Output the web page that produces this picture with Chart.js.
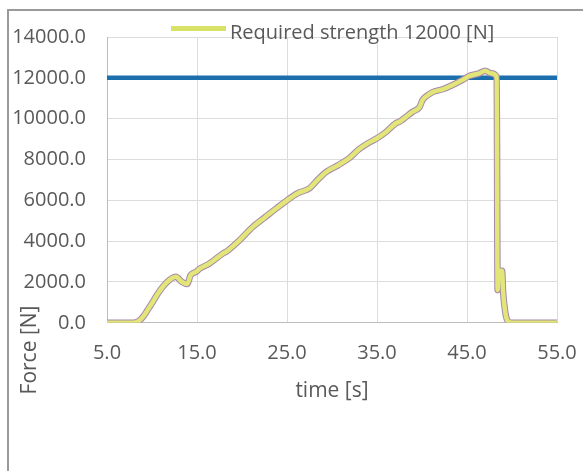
<!DOCTYPE html>
<html>
<head>
<meta charset="utf-8">
<script src="https://cdn.jsdelivr.net/npm/chart.js@4/dist/chart.umd.min.js"></script>
<style>
  html, body { margin: 0; padding: 0; background: #fff; overflow: hidden; }
  #wrap { position: relative; width: 583px; height: 471px; }
  #frame { position: absolute; left: 7px; top: 9px; width: 700px; height: 600px;
           border-left: 2px solid #9a9a9a; border-top: 2px solid #9a9a9a; }
  canvas { position: absolute; left: 0; top: 0; }
</style>
</head>
<body>
<div id="wrap">
  <div id="frame"></div>
  <canvas id="chart" width="583" height="471"></canvas>
</div>
<script>
const timeS = [5, 7.9, 8.5, 9.0, 9.5, 10.1, 10.6, 11.2, 11.7, 12.2, 12.65, 13.3, 13.9, 14.3, 14.9, 15.3, 16.4,
  17.9, 18.3, 19.5, 21.2, 22.5, 23.8, 25.0, 26.2, 27.5, 28.4, 29.4, 30.6, 31.9, 33.0, 34.0, 35.0, 36.0,
  37.1, 37.5, 38.96, 39.7, 40.07, 40.81, 41.18, 42.29, 43.4, 44.51, 45.25, 46.36, 47.02, 47.65, 48.3,
  48.4, 48.5, 48.9, 49.0, 49.3, 49.6, 50.0, 55];
const forceN = [0, 0, 80, 290, 620, 1030, 1400, 1765, 2000, 2180, 2250, 2010, 1900, 2340, 2500, 2650, 2910,
  3400, 3500, 3950, 4700, 5150, 5600, 6000, 6350, 6590, 7000, 7400, 7700, 8060, 8500, 8800, 9040, 9350,
  9775, 9850, 10340, 10550, 10920, 11200, 11300, 11440, 11650, 11900, 12090, 12220, 12350, 12220, 12050,
  1600, 2550, 2550, 1600, 400, 50, 0, 0];

// required strength line
const reqTime = [5, 55];
const reqForce = [12000, 12000];
const legendText = 'Required strength 12000 [N]';

const xTicks = [5, 15, 25, 35, 45, 55];
const yTicks = [0, 2000, 4000, 6000, 8000, 10000, 12000, 14000];

const textColor = '#595959';
const forcePts = timeS.map((t, i) => ({ x: t, y: forceN[i] }));
const reqPts = reqTime.map((t, i) => ({ x: t, y: reqForce[i] }));

// legend + rotated y title drawn at the spots they have in the original
const extraText = {
  id: 'extraText',
  afterDraw(chart) {
    const ctx = chart.ctx;
    ctx.save();
    ctx.fillStyle = '#d8e266';
    ctx.fillRect(171, 26, 55, 5);
    ctx.fillStyle = textColor;
    ctx.font = '20px "Open Sans"';
    ctx.textBaseline = 'alphabetic';
    ctx.textAlign = 'left';
    ctx.fillText(legendText, 230, 39);
    ctx.translate(30, 350);
    ctx.rotate(-Math.PI / 2);
    ctx.font = '21px "Open Sans"';
    ctx.textAlign = 'center';
    ctx.textBaseline = 'middle';
    ctx.fillText('Force [N]', 0, 0);
    ctx.restore();
  }
};

new Chart(document.getElementById('chart'), {
  type: 'line',
  data: {
    datasets: [
      {
        label: legendText,
        data: reqPts,
        borderColor: '#1b6fad',
        borderWidth: 4.5,
        pointRadius: 0,
        order: 3
      },
      {
        label: 'Force edge',
        data: forcePts,
        borderColor: '#a58aa8',
        borderWidth: 6.5,
        pointRadius: 0,
        cubicInterpolationMode: 'monotone',
        order: 2
      },
      {
        label: 'Force',
        data: forcePts,
        borderColor: '#e2e577',
        borderWidth: 4.5,
        pointRadius: 0,
        cubicInterpolationMode: 'monotone',
        order: 1
      }
    ]
  },
  options: {
    responsive: false,
    animation: false,
    layout: { padding: { left: 12, right: 0, top: 37, bottom: 67 } },
    plugins: {
      legend: { display: false },
      tooltip: { enabled: false }
    },
    scales: {
      x: {
        type: 'linear',
        min: 5,
        max: 55,
        afterBuildTicks: axis => { axis.ticks = xTicks.map(v => ({ value: v })); },
        afterFit: axis => { axis.paddingLeft = 0; axis.paddingRight = 26; },
        ticks: {
          color: textColor,
          font: { family: 'Open Sans', size: 20 },
          padding: 18,
          maxRotation: 0,
          callback: v => v.toFixed(1)
        },
        grid: { color: '#dcdcdc', drawTicks: false },
        border: { color: '#bdbdbd' },
        title: {
          display: true,
          text: 'time [s]',
          color: textColor,
          font: { family: 'Open Sans', size: 21 },
          padding: { top: -4, bottom: 0 }
        }
      },
      y: {
        min: 0,
        max: 14000,
        afterBuildTicks: axis => { axis.ticks = yTicks.map(v => ({ value: v })); },
        afterFit: axis => { axis.width = 95; },
        ticks: {
          color: textColor,
          font: { family: 'Open Sans', size: 20 },
          padding: 21,
          callback: v => v.toFixed(1)
        },
        grid: { color: '#dcdcdc', drawTicks: false },
        border: { color: '#bdbdbd' }
      }
    }
  },
  plugins: [extraText]
});
</script>
</body>
</html>
